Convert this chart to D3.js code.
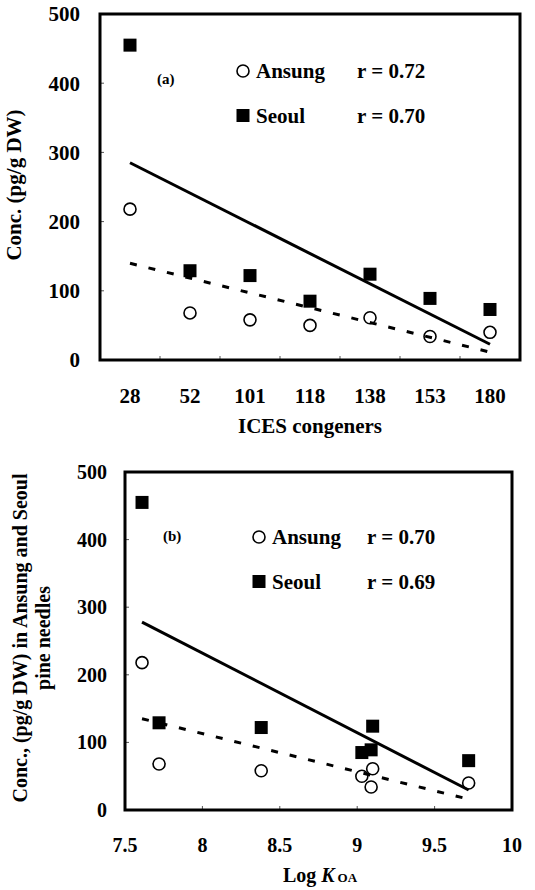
<!DOCTYPE html>
<html>
<head>
<meta charset="utf-8">
<script src="https://cdn.jsdelivr.net/npm/d3@7"></script>
<style>
  body { margin: 0; background: #fff; }
  svg text { font-family: "Liberation Serif", "Times New Roman", serif; font-weight: bold; fill: #000; }
</style>
</head>
<body>
<div id="chart"></div>
<script>
// PCB congeners, their log KOA and concentrations (pg/g DW)
var congeners = ['28', '52', '101', '118', '138', '153', '180'];
var logKoa = [7.61, 7.72, 8.38, 9.03, 9.10, 9.09, 9.72];
var seoul = [455, 129, 122, 85, 124, 89, 73];
var ansung = [218, 68, 58, 50, 61, 34, 40];
var concTicks = [0, 100, 200, 300, 400, 500];
var koaTicks = [7.5, 8, 8.5, 9, 9.5, 10];
var seriesNames = ['Ansung', 'Seoul'];
var rTextA = ['r = 0.72', 'r = 0.70'];
var rTextB = ['r = 0.70', 'r = 0.69'];

var svg = d3.select('#chart').append('svg')
    .attr('width', 535)
    .attr('height', 890);

// least squares fit, returns [x0,y0,x1,y1] over the data range
function fit(xs, ys) {
  var mx = d3.mean(xs), my = d3.mean(ys);
  var sxy = d3.sum(xs, function(x, i) { return (x - mx) * (ys[i] - my); });
  var sxx = d3.sum(xs, function(x) { return (x - mx) * (x - mx); });
  var b = sxy / sxx, a = my - b * mx;
  var x0 = d3.min(xs), x1 = d3.max(xs);
  return [[x0, a + b * x0], [x1, a + b * x1]];
}

function panel(g, o) {
  var x = o.x, y = o.y;
  var x0 = o.left, x1 = o.right, y0 = o.top, y1 = o.bottom;

  // y ticks (inside)
  g.selectAll('.yt').data(concTicks).enter().append('line')
      .attr('x1', x0).attr('x2', x0 + 4)
      .attr('y1', function(d) { return y(d); })
      .attr('y2', function(d) { return y(d); })
      .attr('stroke', '#555').attr('stroke-width', 1);
  g.selectAll('.yl').data(concTicks).enter().append('text')
      .attr('x', o.yLabelX)
      .attr('y', function(d) { return y(d); })
      .attr('dy', '0.35em')
      .attr('text-anchor', 'end')
      .style('font-size', o.fs + 'px')
      .text(function(d) { return d; });

  // x ticks
  g.selectAll('.xt').data(o.xTickPos).enter().append('line')
      .attr('x1', function(d) { return d; })
      .attr('x2', function(d) { return d; })
      .attr('y1', y1).attr('y2', y1 - 4)
      .attr('stroke', '#555').attr('stroke-width', 1);
  g.selectAll('.xl').data(o.xLabels).enter().append('text')
      .attr('x', function(d) { return d.pos; })
      .attr('y', o.xLabelY)
      .attr('text-anchor', 'middle')
      .style('font-size', o.fs + 'px')
      .text(function(d) { return d.text; });

  // markers
  g.selectAll('.sq').data(o.xs).enter().append('rect')
      .attr('x', function(d) { return d - 6.5; })
      .attr('y', function(d, i) { return y(seoul[i]) - 6.5; })
      .attr('width', 13).attr('height', 13)
      .attr('fill', '#000');
  g.selectAll('.ci').data(o.xs).enter().append('circle')
      .attr('cx', function(d) { return d; })
      .attr('cy', function(d, i) { return y(ansung[i]); })
      .attr('r', 6)
      .attr('fill', 'none')
      .attr('stroke', '#000').attr('stroke-width', 1.6);

  // regression lines
  var line = d3.line()
      .x(function(d) { return o.xv(d[0]); })
      .y(function(d) { return y(d[1]); });
  g.append('path').datum(fit(o.xVals, seoul))
      .attr('d', line).attr('fill', 'none')
      .attr('stroke', '#000').attr('stroke-width', 3);
  g.append('path').datum(fit(o.xVals, ansung))
      .attr('d', line).attr('fill', 'none')
      .attr('stroke', '#000').attr('stroke-width', 3)
      .attr('stroke-dasharray', '7,12');

  // frame
  g.append('rect')
      .attr('x', x0).attr('y', y0)
      .attr('width', x1 - x0).attr('height', y1 - y0)
      .attr('fill', 'none').attr('stroke', '#000').attr('stroke-width', 3);

  // legend
  var L = o.legend;
  g.append('text').attr('x', L.tagX).attr('y', L.tagY)
      .style('font-size', '15px').text(L.tag);
  g.append('circle').attr('cx', L.x).attr('cy', L.y1 - 7).attr('r', 6)
      .attr('fill', 'none').attr('stroke', '#000').attr('stroke-width', 1.6);
  g.append('rect').attr('x', L.x - 6.5).attr('y', L.y2 - 14).attr('width', 13).attr('height', 13)
      .attr('fill', '#000');
  g.selectAll('.ln').data(seriesNames).enter().append('text')
      .attr('x', L.x + 13)
      .attr('y', function(d, i) { return i == 0 ? L.y1 : L.y2; })
      .style('font-size', '21px')
      .text(function(d) { return d; });
  g.selectAll('.lr').data(L.r).enter().append('text')
      .attr('x', L.rx)
      .attr('y', function(d, i) { return i == 0 ? L.y1 : L.y2; })
      .style('font-size', '21px')
      .text(function(d) { return d; });
}

// ---- panel (a)
var xa = d3.scaleBand().domain(congeners).range([100, 520]);
var ya = d3.scaleLinear().domain([0, 500]).range([360, 14]);
var ga = svg.append('g');
var xaIdx = d3.scaleLinear().domain([0, 1]).range([xa('28') + xa.bandwidth() / 2, xa('52') + xa.bandwidth() / 2]);
panel(ga, {
  x: xa, y: ya, left: 100, right: 520, top: 14, bottom: 360,
  fs: 21, yLabelX: 80, xLabelY: 403,
  xTickPos: congeners.slice(1).map(function(c) { return xa(c); }),
  xLabels: congeners.map(function(c) { return { pos: xa(c) + xa.bandwidth() / 2, text: c }; }),
  xs: congeners.map(function(c) { return xa(c) + xa.bandwidth() / 2; }),
  xVals: congeners.map(function(c, i) { return i; }),
  xv: xaIdx,
  legend: { tag: '(a)', tagX: 157, tagY: 84, x: 243, y1: 78, y2: 123, rx: 357, r: rTextA }
});
ga.append('text').attr('x', 310).attr('y', 433).attr('text-anchor', 'middle')
    .style('font-size', '21px').text('ICES congeners');
ga.append('text').attr('transform', 'translate(21,185) rotate(-90)')
    .attr('text-anchor', 'middle').style('font-size', '21px').text('Conc. (pg/g DW)');

// ---- panel (b)
var xb = d3.scaleLinear().domain([7.5, 10]).range([125, 512]);
var yb = d3.scaleLinear().domain([0, 500]).range([810, 472]);
var gb = svg.append('g');
panel(gb, {
  x: xb, y: yb, left: 125, right: 512, top: 472, bottom: 810,
  fs: 20, yLabelX: 107, xLabelY: 852,
  xTickPos: koaTicks.slice(1, -1).map(function(d) { return xb(d); }),
  xLabels: koaTicks.map(function(d) { return { pos: xb(d), text: d }; }),
  xs: logKoa.map(function(d) { return xb(d); }),
  xVals: logKoa,
  xv: xb,
  legend: { tag: '(b)', tagX: 163, tagY: 541, x: 259, y1: 544, y2: 589, rx: 367, r: rTextB }
});
var kl = gb.append('text').attr('x', 320).attr('y', 882).attr('text-anchor', 'middle')
    .style('font-size', '20px');
kl.append('tspan').text('Log ');
kl.append('tspan').style('font-style', 'italic').text('K');
kl.append('tspan').attr('dx', 3).style('font-size', '13px').text('OA');
var yl = gb.append('text').attr('transform', 'translate(0,638) rotate(-90)')
    .attr('text-anchor', 'middle').style('font-size', '20px');
yl.append('tspan').attr('x', 0).attr('y', 27).text('Conc., (pg/g DW) in Ansung and Seoul');
yl.append('tspan').attr('x', 0).attr('y', 50).text('pine needles');
</script>
</body>
</html>
